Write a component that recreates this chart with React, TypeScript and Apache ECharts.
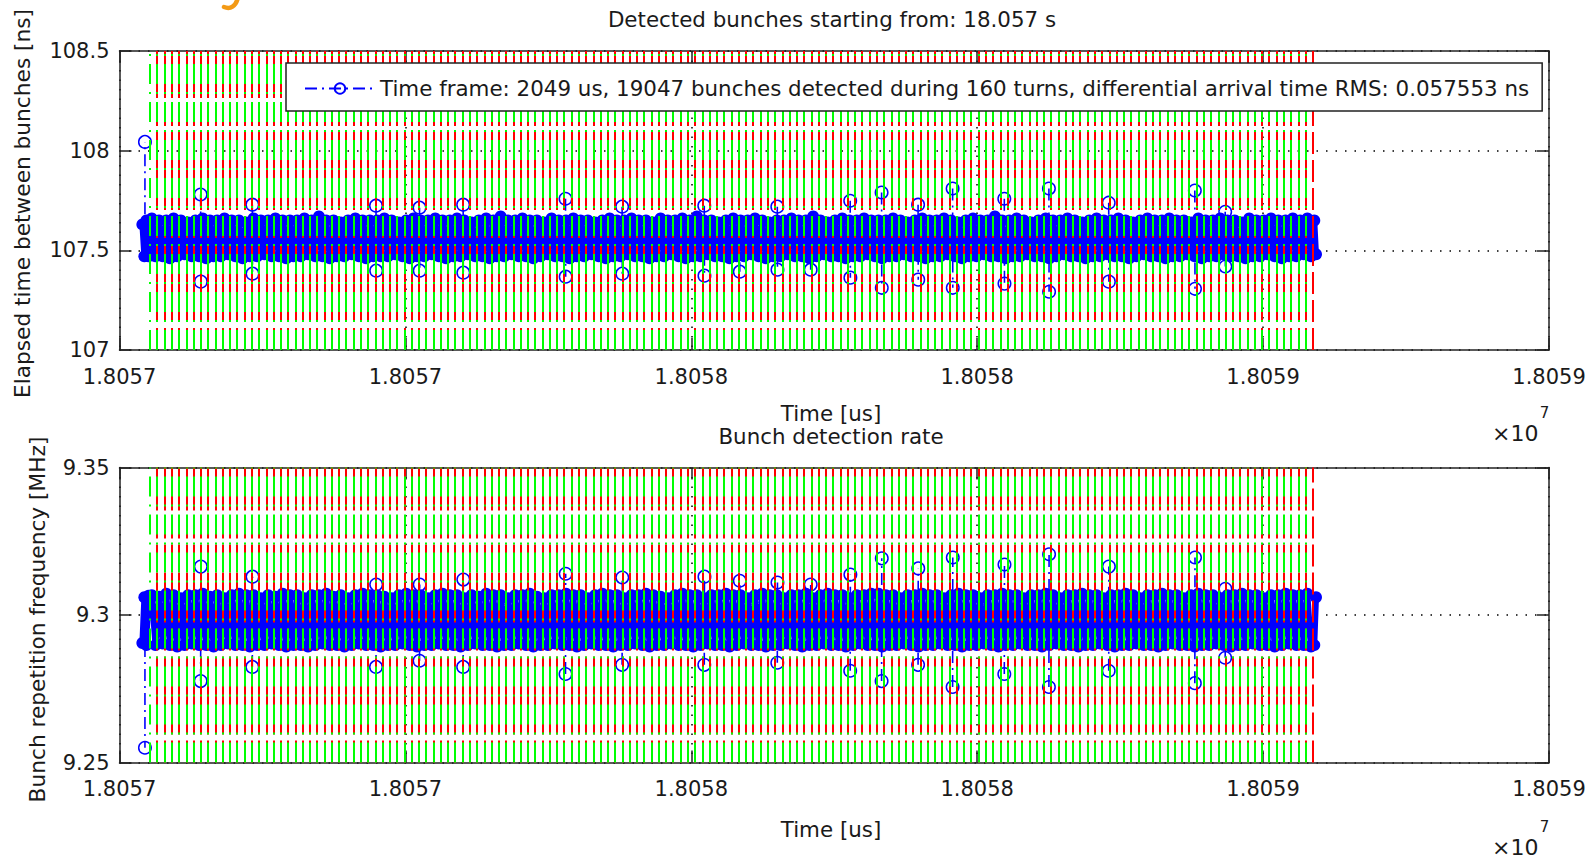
import React, { useEffect, useRef } from 'react';
import * as echarts from 'echarts';

// Time axis: microseconds after this origin (18.057 s)
const timeOrigin = 18057000;
const xTickLabels = ['1.8057', '1.8057', '1.8058', '1.8058', '1.8059', '1.8059'];

const legendText =
  'Time frame: 2049 us, 19047 bunches detected during 160 turns, differential arrival time RMS: 0.057553 ns';

// Turn boundaries (us after origin): green = turn start, red = turn end
const turnEdges = [
  53.3, 66.0, 78.7, 91.4, 104.1, 116.9, 129.6, 142.3, 155.0, 167.7, 180.4, 193.1, 205.8, 218.5, 231.2, 244.0, 256.7, 269.4, 282.1, 294.8,
  307.5, 320.2, 332.9, 345.6, 358.3, 371.1, 383.8, 396.5, 409.2, 421.9, 434.6, 447.3, 460.0, 472.7, 485.4, 498.2, 510.9, 523.6, 536.3, 549.0,
  561.7, 574.4, 587.1, 599.8, 612.5, 625.3, 638.0, 650.7, 663.4, 676.1, 688.8, 701.5, 714.2, 726.9, 739.6, 752.4, 765.1, 777.8, 790.5, 803.2,
  815.9, 828.6, 841.3, 854.0, 866.7, 879.5, 892.2, 904.9, 917.6, 930.3, 943.0, 955.7, 968.4, 981.1, 993.8, 1006.6, 1019.3, 1032.0, 1044.7, 1057.4,
  1070.1, 1082.8, 1095.5, 1108.2, 1120.9, 1133.7, 1146.4, 1159.1, 1171.8, 1184.5, 1197.2, 1209.9, 1222.6, 1235.3, 1248.0, 1260.8, 1273.5, 1286.2, 1298.9, 1311.6,
  1324.3, 1337.0, 1349.7, 1362.4, 1375.1, 1387.9, 1400.6, 1413.3, 1426.0, 1438.7, 1451.4, 1464.1, 1476.8, 1489.5, 1502.2, 1515.0, 1527.7, 1540.4, 1553.1, 1565.8,
  1578.5, 1591.2, 1603.9, 1616.6, 1629.3, 1642.1, 1654.8, 1667.5, 1680.2, 1692.9, 1705.6, 1718.3, 1731.0, 1743.7, 1756.4, 1769.2, 1781.9, 1794.6, 1807.3, 1820.0,
  1832.7, 1845.4, 1858.1, 1870.8, 1883.5, 1896.3, 1909.0, 1921.7, 1934.4, 1947.1, 1959.8, 1972.5, 1985.2, 1997.9, 2010.6, 2023.4, 2036.1, 2048.8, 2061.5, 2074.2,
  2086.9,
];

// Per-turn maximum / minimum of the elapsed time between bunches [ns]
const topBandMax = [
  107.66, 107.65, 107.65, 107.66, 107.65, 107.64, 107.65, 107.66, 107.65, 107.65, 107.66, 107.65, 107.65, 107.64, 107.66, 107.65, 107.65, 107.66, 107.65, 107.65,
  107.65, 107.66, 107.65, 107.67, 107.65, 107.65, 107.64, 107.65, 107.66, 107.65, 107.65, 107.65, 107.66, 107.65, 107.64, 107.65, 107.66, 107.65, 107.65, 107.66,
  107.65, 107.65, 107.66, 107.65, 107.64, 107.65, 107.66, 107.65, 107.67, 107.65, 107.65, 107.66, 107.65, 107.65, 107.64, 107.66, 107.65, 107.65, 107.66, 107.65,
  107.65, 107.64, 107.65, 107.66, 107.65, 107.65, 107.66, 107.65, 107.65, 107.64, 107.66, 107.65, 107.65, 107.66, 107.65, 107.67, 107.65, 107.65, 107.64, 107.65,
  107.66, 107.65, 107.65, 107.66, 107.65, 107.64, 107.65, 107.65, 107.66, 107.65, 107.65, 107.67, 107.65, 107.64, 107.65, 107.66, 107.65, 107.65, 107.66, 107.65,
  107.65, 107.65, 107.66, 107.65, 107.64, 107.65, 107.66, 107.65, 107.65, 107.66, 107.65, 107.64, 107.65, 107.66, 107.65, 107.65, 107.67, 107.65, 107.65, 107.66,
  107.65, 107.64, 107.65, 107.66, 107.65, 107.65, 107.66, 107.65, 107.64, 107.65, 107.66, 107.65, 107.65, 107.66, 107.65, 107.64, 107.65, 107.66, 107.65, 107.65,
  107.66, 107.65, 107.65, 107.64, 107.66, 107.65, 107.65, 107.66, 107.65, 107.65, 107.64, 107.66, 107.65, 107.65, 107.66, 107.65, 107.65, 107.66, 107.65, 107.66,
];
const topBandMin = [
  107.47, 107.47, 107.46, 107.47, 107.48, 107.47, 107.47, 107.46, 107.47, 107.47, 107.48, 107.47, 107.46, 107.47, 107.47, 107.48, 107.47, 107.47, 107.46, 107.47,
  107.47, 107.48, 107.47, 107.47, 107.46, 107.47, 107.47, 107.48, 107.47, 107.46, 107.47, 107.47, 107.47, 107.48, 107.47, 107.46, 107.47, 107.47, 107.48, 107.47,
  107.46, 107.47, 107.47, 107.48, 107.47, 107.47, 107.46, 107.47, 107.47, 107.48, 107.47, 107.47, 107.46, 107.47, 107.48, 107.47, 107.47, 107.46, 107.47, 107.47,
  107.48, 107.47, 107.46, 107.47, 107.47, 107.48, 107.47, 107.47, 107.46, 107.47, 107.47, 107.48, 107.47, 107.46, 107.47, 107.47, 107.48, 107.47, 107.47, 107.46,
  107.47, 107.47, 107.48, 107.47, 107.46, 107.47, 107.47, 107.48, 107.47, 107.47, 107.46, 107.47, 107.48, 107.47, 107.47, 107.46, 107.47, 107.47, 107.48, 107.47,
  107.46, 107.47, 107.47, 107.48, 107.47, 107.47, 107.46, 107.47, 107.47, 107.48, 107.47, 107.46, 107.47, 107.47, 107.48, 107.47, 107.47, 107.46, 107.47, 107.47,
  107.48, 107.47, 107.47, 107.46, 107.47, 107.48, 107.47, 107.47, 107.46, 107.47, 107.47, 107.48, 107.47, 107.47, 107.46, 107.47, 107.48, 107.47, 107.47, 107.46,
  107.47, 107.47, 107.48, 107.47, 107.46, 107.47, 107.47, 107.48, 107.47, 107.47, 107.46, 107.47, 107.47, 107.48, 107.47, 107.46, 107.47, 107.47, 107.48, 107.47,
];

// Per-turn maximum / minimum of the bunch repetition frequency [MHz]
const botBandMax = [
  9.3067, 9.3062, 9.3072, 9.3067, 9.3057, 9.3067, 9.3067, 9.3072, 9.3062, 9.3067, 9.3057, 9.3067, 9.3072, 9.3067, 9.3067, 9.3057, 9.3067, 9.3062, 9.3072, 9.3067,
  9.3067, 9.3057, 9.3067, 9.3067, 9.3072, 9.3062, 9.3067, 9.3057, 9.3067, 9.3072, 9.3067, 9.3067, 9.3062, 9.3057, 9.3067, 9.3072, 9.3067, 9.3067, 9.3057, 9.3067,
  9.3072, 9.3067, 9.3067, 9.3057, 9.3067, 9.3062, 9.3072, 9.3067, 9.3067, 9.3057, 9.3067, 9.3067, 9.3072, 9.3062, 9.3057, 9.3067, 9.3067, 9.3072, 9.3067, 9.3067,
  9.3057, 9.3067, 9.3072, 9.3067, 9.3067, 9.3057, 9.3067, 9.3067, 9.3072, 9.3067, 9.3062, 9.3057, 9.3067, 9.3072, 9.3067, 9.3067, 9.3057, 9.3067, 9.3067, 9.3072,
  9.3067, 9.3067, 9.3057, 9.3067, 9.3072, 9.3067, 9.3067, 9.3057, 9.3067, 9.3067, 9.3072, 9.3057, 9.3067, 9.3072, 9.3067, 9.3067, 9.3057, 9.3067, 9.3067, 9.3072,
  9.3072, 9.3067, 9.3067, 9.3057, 9.3067, 9.3067, 9.3072, 9.3067, 9.3067, 9.3057, 9.3067, 9.3072, 9.3067, 9.3067, 9.3057, 9.3067, 9.3067, 9.3072, 9.3067, 9.3067,
  9.3057, 9.3067, 9.3067, 9.3072, 9.3067, 9.3057, 9.3067, 9.3067, 9.3072, 9.3067, 9.3067, 9.3057, 9.3067, 9.3067, 9.3072, 9.3067, 9.3057, 9.3067, 9.3067, 9.3072,
  9.3067, 9.3067, 9.3057, 9.3067, 9.3072, 9.3067, 9.3067, 9.3057, 9.3067, 9.3067, 9.3072, 9.3067, 9.3067, 9.3057, 9.3067, 9.3067, 9.3072, 9.3067, 9.3067, 9.3072,
];
const botBandMin = [
  9.2898, 9.2903, 9.2898, 9.2893, 9.2898, 9.2903, 9.2898, 9.2898, 9.2893, 9.2898, 9.2903, 9.2898, 9.2898, 9.2893, 9.2898, 9.2898, 9.2903, 9.2898, 9.2893, 9.2898,
  9.2898, 9.2893, 9.2898, 9.2903, 9.2898, 9.2898, 9.2893, 9.2898, 9.2903, 9.2898, 9.2898, 9.2893, 9.2898, 9.2898, 9.2903, 9.2898, 9.2893, 9.2898, 9.2898, 9.2903,
  9.2898, 9.2898, 9.2893, 9.2898, 9.2903, 9.2898, 9.2898, 9.2893, 9.2898, 9.2898, 9.2903, 9.2898, 9.2893, 9.2898, 9.2898, 9.2903, 9.2898, 9.2898, 9.2893, 9.2898,
  9.2903, 9.2898, 9.2898, 9.2893, 9.2898, 9.2898, 9.2903, 9.2898, 9.2893, 9.2898, 9.2898, 9.2903, 9.2898, 9.2898, 9.2893, 9.2898, 9.2903, 9.2898, 9.2898, 9.2893,
  9.2898, 9.2903, 9.2898, 9.2898, 9.2893, 9.2898, 9.2898, 9.2903, 9.2898, 9.2893, 9.2898, 9.2898, 9.2903, 9.2898, 9.2898, 9.2893, 9.2898, 9.2903, 9.2898, 9.2898,
  9.2893, 9.2898, 9.2898, 9.2903, 9.2898, 9.2893, 9.2898, 9.2898, 9.2903, 9.2898, 9.2898, 9.2893, 9.2898, 9.2898, 9.2903, 9.2898, 9.2893, 9.2898, 9.2898, 9.2903,
  9.2898, 9.2898, 9.2893, 9.2898, 9.2903, 9.2898, 9.2898, 9.2893, 9.2898, 9.2898, 9.2903, 9.2898, 9.2893, 9.2898, 9.2898, 9.2903, 9.2898, 9.2898, 9.2893, 9.2898,
  9.2903, 9.2898, 9.2898, 9.2893, 9.2898, 9.2898, 9.2903, 9.2898, 9.2893, 9.2898, 9.2898, 9.2903, 9.2898, 9.2898, 9.2893, 9.2898, 9.2903, 9.2898, 9.2898, 9.2893,
];

// Bunches detected before the first and after the last full turn: [us, value]
const topLead = [[40.0, 107.63], [43.5, 107.47], [47.0, 107.65], [50.5, 107.47]];
const topTail = [[2089.5, 107.65], [2092.5, 107.48]];
const botLead = [[40.0, 9.2905], [43.5, 9.3060], [47.0, 9.2898], [50.5, 9.3065]];
const botTail = [[2089.5, 9.2898], [2092.5, 9.3060]];

// Outlying bunches (glitches), us after origin
const glitchTimes = [
  44.5, 141.9, 232.3, 448.6, 524.7, 601.0, 780.0, 879.0, 1022.7, 1084.8, 1150.4,
  1208.8, 1277.9, 1332.8, 1396.6, 1457.0, 1547.4, 1625.4, 1730.0, 1880.6, 1933.7,
];
const topHigh = [
  108.044, 107.78, 107.729, 107.724, 107.714, 107.729, 107.759, 107.719, 107.724, null, 107.719,
  null, 107.749, 107.79, 107.729, 107.81, 107.759, 107.81, 107.739, 107.8, 107.693,
];
const topLow = [
  null, 107.343, 107.383, 107.398, 107.398, 107.388, 107.368, 107.383, 107.373, 107.393, 107.403,
  107.403, 107.363, 107.312, 107.353, 107.312, 107.333, 107.292, 107.343, 107.307, 107.419,
];
const botLow = [
  9.255, 9.2776, 9.2824, 9.2824, 9.2845, 9.2824, 9.28, 9.2831, 9.2831, null, 9.2838,
  null, 9.2811, 9.2776, 9.2831, 9.2756, 9.28, 9.2756, 9.2811, 9.2769, 9.2855,
];
const botHigh = [
  null, 9.3164, 9.313, 9.3103, 9.3103, 9.312, 9.314, 9.3127, 9.313, 9.3116, 9.311,
  9.3103, 9.3137, 9.3192, 9.3158, 9.3195, 9.3171, 9.3206, 9.3164, 9.3195, 9.3089,
];
const topMid = 107.56;
const botMid = 9.298;

const FONT = 'DejaVu Sans';
const TXT = '#1a1a1a';
const BLUE = '#0000ff';

function bandPoints(lead: number[][], maxArr: number[], minArr: number[], tail: number[][]) {
  const pts: any[] = lead.map((p) => [p[0], p[1]]);
  for (let k = 0; k < maxArr.length; k++) {
    const a = turnEdges[k];
    const d = turnEdges[k + 1] - a;
    pts.push([a + 0.25 * d, maxArr[k]]);
    pts.push([a + 0.75 * d, minArr[k]]);
  }
  tail.forEach((p) => pts.push([p[0], p[1]]));
  return pts;
}

function glitchPoints(first: (number | null)[], second: (number | null)[], mid: number) {
  const pts: any[] = [];
  glitchTimes.forEach((t, i) => {
    const a = first[i];
    const b = second[i];
    if (a != null && b != null) {
      pts.push([t, a]);
      pts.push([t + 0.3, b]);
    } else {
      pts.push({ value: [t, mid], symbol: 'none' });
      pts.push([t, a != null ? a : b]);
    }
    pts.push([t + 0.5, null]);
  });
  return pts;
}

function axesFor(grid: number, yMin: number, yMax: number, yInt: number) {
  const line = { show: true, onZero: false, lineStyle: { color: '#222', width: 1.5 } };
  const tick = { show: true, inside: true, length: 12, lineStyle: { color: '#222', width: 1.5 } };
  const dotted = { show: true, lineStyle: { color: '#000', width: 1.5, type: [1.5, 8] } };
  const labelStyle = { fontFamily: FONT, fontSize: 21, color: TXT };
  const x = [
    {
      type: 'value', gridIndex: grid, position: 'bottom', min: 0, max: 2500, interval: 500,
      axisLine: line, axisTick: tick, splitLine: dotted,
      axisLabel: {
        ...labelStyle, margin: 16, showMinLabel: true, showMaxLabel: true, hideOverlap: false,
        formatter: (v: number) => xTickLabels[Math.round(v / 500)],
      },
    },
    {
      type: 'value', gridIndex: grid, position: 'top', min: 0, max: 2500, interval: 500,
      axisLine: line, axisTick: tick, splitLine: { show: false }, axisLabel: { show: false },
    },
  ];
  const y = [
    {
      type: 'value', gridIndex: grid, position: 'left', min: yMin, max: yMax, interval: yInt,
      axisLine: line, axisTick: tick, splitLine: dotted,
      axisLabel: { ...labelStyle, margin: 10, showMinLabel: true, showMaxLabel: true },
    },
    {
      type: 'value', gridIndex: grid, position: 'right', min: yMin, max: yMax, interval: yInt,
      axisLine: line, axisTick: tick, splitLine: { show: false }, axisLabel: { show: false },
    },
  ];
  return { x, y };
}

function seriesFor(xi: number, yi: number, band: any[], glitches: any[], name: string) {
  return [
    {
      type: 'line', name: 'band' + xi, xAxisIndex: xi, yAxisIndex: yi, data: band, z: 2,
      symbol: 'circle', symbolSize: 12, showAllSymbol: true, silent: true,
      itemStyle: { color: BLUE }, lineStyle: { color: BLUE, width: 6 },
    },
    {
      type: 'line', name, xAxisIndex: xi, yAxisIndex: yi, data: glitches, z: 3,
      symbol: 'circle', symbolSize: 12.5, showAllSymbol: true, connectNulls: false, silent: true,
      itemStyle: { color: 'rgba(255,255,255,0)', borderColor: BLUE, borderWidth: 1.5 },
      lineStyle: { color: BLUE, width: 1.6, type: [12, 5, 2, 5] },
    },
    {
      type: 'line', name: 'turnEnd' + xi, xAxisIndex: xi, yAxisIndex: yi, data: [], z: 4, silent: true,
      markLine: {
        silent: true, symbol: ['none', 'none'], label: { show: false }, animation: false,
        lineStyle: { color: '#ff0000', width: 2, type: [22, 6] },
        emphasis: { disabled: true },
        data: turnEdges.slice(1).map((t) => ({ xAxis: t })),
      },
    },
    {
      type: 'line', name: 'turnStart' + xi, xAxisIndex: xi, yAxisIndex: yi, data: [], z: 5, silent: true,
      markLine: {
        silent: true, symbol: ['none', 'none'], label: { show: false }, animation: false,
        lineStyle: { color: '#00ff00', width: 2, type: [20, 8, 2, 8] },
        emphasis: { disabled: true },
        data: turnEdges.slice(0, turnEdges.length - 1).map((t) => ({ xAxis: t })),
      },
    },
  ];
}

function textEl(text: string, x: number, y: number, size = 21.4, extra: any = {}) {
  return {
    type: 'text', x, y, silent: true, z: 30, ...extra,
    style: {
      text, fill: TXT, fontFamily: FONT, fontSize: size,
      align: extra.align || 'center', verticalAlign: 'middle',
    },
  };
}

export default function App() {
  const ref = useRef<HTMLDivElement>(null);
  useEffect(() => {
    if (!ref.current) return;
    const chart = echarts.init(ref.current, null, { renderer: 'svg' });
    const a1 = axesFor(0, 107, 108.5, 0.5);
    const a2 = axesFor(1, 9.25, 9.35, 0.05);
    const option: any = {
      animation: false,
      backgroundColor: '#ffffff',
      textStyle: { fontFamily: FONT },
      grid: [
        { left: 119.5, top: 51, width: 1429.5, height: 299, outerBoundsMode: 'none', containLabel: false },
        { left: 119.5, top: 467.5, width: 1429.5, height: 295, outerBoundsMode: 'none', containLabel: false },
      ],
      xAxis: [...a1.x, ...a2.x],
      yAxis: [...a1.y, ...a2.y],
      legend: {
        data: [legendText], left: 286, top: 63, z: 20, orient: 'horizontal',
        backgroundColor: '#ffffff', borderColor: '#222', borderWidth: 1.5, borderRadius: 0,
        padding: [15, 13, 12, 18], itemWidth: 70, itemHeight: 13, selectedMode: false,
        textStyle: { fontFamily: FONT, fontSize: 21.4, color: TXT },
      },
      series: [
        ...seriesFor(0, 0, bandPoints(topLead, topBandMax, topBandMin, topTail), glitchPoints(topHigh, topLow, topMid), legendText),
        ...seriesFor(2, 2, bandPoints(botLead, botBandMax, botBandMin, botTail), glitchPoints(botLow, botHigh, botMid), 'Bunch repetition frequency'),
      ],
      graphic: [
        textEl('Detected bunches starting from: 18.057 s', 832, 19.5),
        textEl('Time [us]', 831, 413.5),
        textEl('Bunch detection rate', 831, 436.5),
        textEl('Time [us]', 831, 829),
        textEl('Elapsed time between bunches [ns]', 22.5, 203.5, 21.7, { rotation: Math.PI / 2 }),
        textEl('Bunch repetition frequency [MHz]', 37.5, 619.5, 21.7, { rotation: Math.PI / 2 }),
        textEl('\u00d710', 1492, 433.5, 22, { align: 'left' }),
        textEl('7', 1544.5, 412.5, 15),
        textEl('\u00d710', 1492, 847, 22, { align: 'left' }),
        textEl('7', 1544.5, 827, 15),
        {
          type: 'bezierCurve', silent: true, z: 30,
          shape: { x1: 238, y1: -3, cpx1: 236, cpy1: 7, cpx2: 230, cpy2: 9.5, x2: 224, y2: 7 },
          style: { stroke: '#f39a16', lineWidth: 4.5, fill: 'none', lineCap: 'round' },
        },
      ],
    };
    chart.setOption(option);
    return () => chart.dispose();
  }, []);
  return (
    <div
      ref={ref}
      style={{ position: 'fixed', left: 0, top: 0, width: 1589, height: 858, background: '#fff' }}
    />
  );
}
